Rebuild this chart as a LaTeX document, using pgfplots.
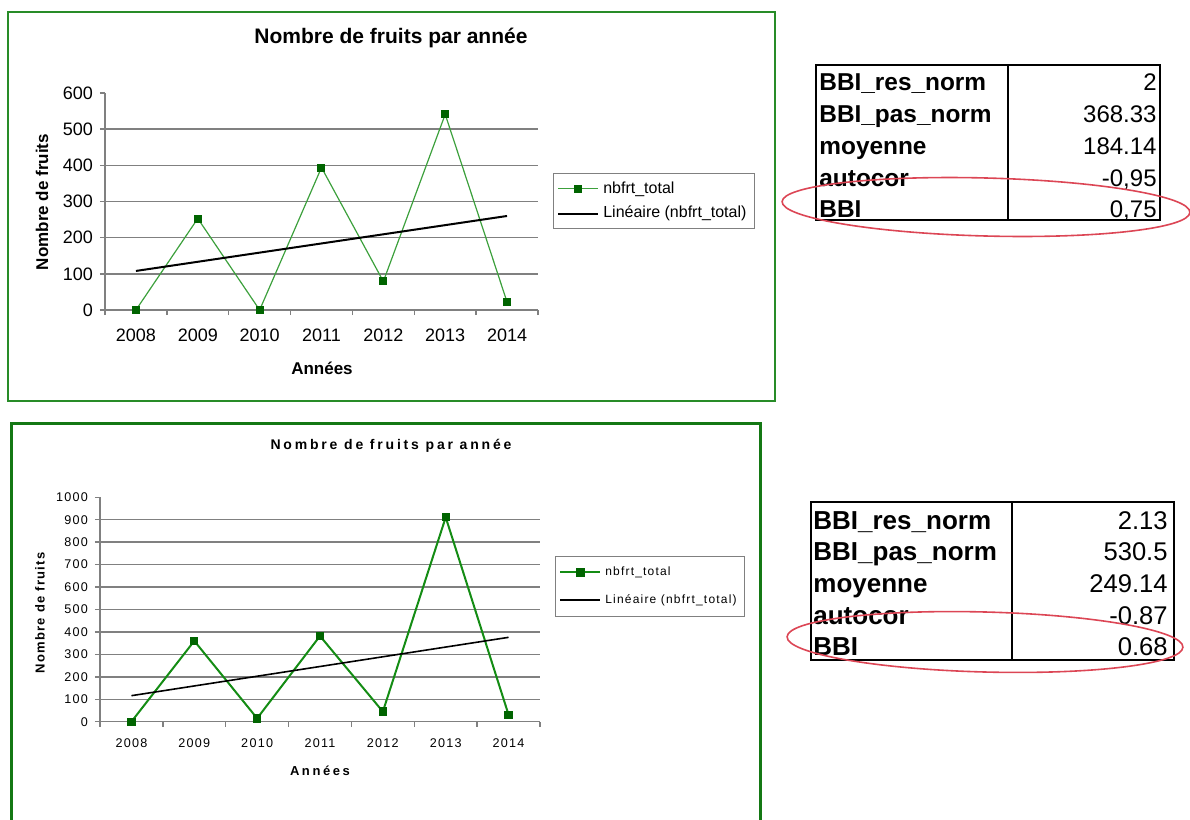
\documentclass[border=0pt]{standalone}
\usepackage{fontspec}
\setmainfont{Liberation Sans}
\newfontfamily\spaced[LetterSpace=10]{Liberation Sans}
\newfontfamily\spacedt[LetterSpace=20]{Liberation Sans}
\usepackage{pgfplots}
\pgfplotsset{compat=1.18}
\definecolor{frameg}{RGB}{40,140,40}
\definecolor{frameg2}{RGB}{20,120,20}
\definecolor{lineg}{RGB}{60,160,60}
\definecolor{lineg2}{RGB}{20,140,20}
\definecolor{markg}{RGB}{0,100,0}
\definecolor{gridg}{RGB}{128,128,128}
\definecolor{ellred}{RGB}{220,70,85}
\pgfplotsset{
  excelstyle/.style={
    scale only axis, anchor=south west,
    xmin=-0.5, xmax=6.5, ymin=0,
    axis x line*=bottom, axis y line*=left,
    axis line style={gridg, line width=0.7pt},
    xtick={0,1,2,3,4,5,6},
    xticklabels={2008,2009,2010,2011,2012,2013,2014},
    minor xtick={-0.5,0.5,1.5,2.5,3.5,4.5,5.5,6.5},
    major x tick style={draw=none},
    minor x tick style={gridg, line width=0.7pt},
    y tick style={gridg, line width=0.7pt},
    tick align=outside,
    major tick length=2.5pt, minor tick length=2.5pt,
    major grid style={gridg, line width=0.7pt},
    /pgf/number format/assume math mode=true,
    /pgf/number format/1000 sep={},
    clip=false,
    legend cell align=left,
    legend image code/.code={\draw[mark repeat=2,mark phase=2,##1] plot coordinates {(0cm,0cm) (0.35cm,0cm) (0.7cm,0cm)};},
  }
}
\begin{document}
\begin{tikzpicture}
\begin{scope}[x=0.5pt,y=-0.5pt]
  \path[use as bounding box] (0,0) rectangle (1190,820);
  % frames
  \draw[frameg, line width=1pt] (8,12) rectangle (775,401);
  \draw[frameg2, line width=1.5pt] (11,830) -- (11,423) -- (760,423) -- (760,830);
  % top chart texts
  \node[font=\bfseries\fontsize{10.5}{12}\selectfont] at (391,38) {Nombre de fruits par année};
  \node[font=\bfseries\fontsize{8.5}{10}\selectfont, rotate=90] at (42,202) {Nombre de fruits};
  \node[font=\bfseries\fontsize{8.5}{10}\selectfont] at (322,368) {Années};
  % bottom chart texts
  \node[font=\spacedt\bfseries\fontsize{7}{8}\selectfont] at (391,446) {Nombre de fruits par année};
  \node[font=\spaced\bfseries\fontsize{6.5}{8}\selectfont, rotate=90] at (40,613) {Nombre de fruits};
  \node[font=\spacedt\bfseries\fontsize{6.5}{8}\selectfont] at (320,771) {Années};
  % top table
  \draw[line width=1pt] (816,65) rectangle (1160,220);
  \draw[line width=1pt] (1008,65) -- (1008,220);
  \foreach \lab/\val/\yy in {BBI\_res\_norm/2/90, BBI\_pas\_norm/368.33/122, moyenne/184.14/154, autocor/-0{,}95/186, BBI/0{,}75/217}{
    \node[anchor=base west, inner sep=0pt, font=\bfseries\fontsize{12.2}{14}\selectfont] at (819,\yy) {\lab};
    \node[anchor=base east, inner sep=0pt, font=\fontsize{12}{14}\selectfont] at (1157,\yy) {\val};
  }
  % bottom table
  \draw[line width=1pt] (811,502) rectangle (1174,660);
  \draw[line width=1pt] (1012,502) -- (1012,660);
  \foreach \lab/\val/\yy in {BBI\_res\_norm/2.13/529, BBI\_pas\_norm/530.5/560.75, moyenne/249.14/592.5, autocor/-0.87/624.25, BBI/0.68/655}{
    \node[anchor=base west, inner sep=0pt, font=\bfseries\fontsize{13}{15}\selectfont] at (813,\yy) {\lab};
    \node[anchor=base east, inner sep=0pt, font=\fontsize{12.8}{14}\selectfont] at (1168,\yy) {\val};
  }
  % ellipses
  \draw[ellred, line width=0.8pt, rotate around={-1.5:(986,207)}] (986,207) ellipse [x radius=204, y radius=29];
  \draw[ellred, line width=0.8pt, rotate around={-1.5:(985,642)}] (985,642) ellipse [x radius=198, y radius=30];
\end{scope}

% top axis
\begin{axis}[excelstyle,
  at={(52.5pt,-155pt)},
  width=216.5pt, height=108.5pt,
  ymax=600,
  ytick={0,100,200,300,400,500,600},
  extra y ticks={100,200,300,400,500},
  extra y tick labels={},
  extra y tick style={grid=major, major tick length=0pt},
  tick label style={font=\fontsize{9}{10}\selectfont},
  xticklabel style={yshift=-3.5pt},
  legend style={at={(1.0346,0.631)}, anchor=north west, draw=gridg, line width=0.5pt,
    font=\fontsize{8}{9}\selectfont, inner xsep=2pt, inner ysep=2pt, row sep=1pt},
]
\addplot[lineg, line width=0.6pt, mark=square*, mark size=1.7pt, mark options={fill=markg, draw=markg, solid}]
  coordinates {(0,0) (1,253) (2,0) (3,394) (4,79) (5,541) (6,22)};
\addplot[black, line width=1pt] coordinates {(0,108) (6,260)};
\legend{nbfrt\_total, Linéaire (nbfrt\_total)}
\end{axis}

% bottom axis
\begin{axis}[excelstyle,
  at={(50pt,-360.85pt)},
  width=220pt, height=112.2pt,
  ymax=1000,
  ytick={0,100,200,300,400,500,600,700,800,900,1000},
  extra y ticks={100,200,300,400,500,600,700,800,900},
  extra y tick labels={},
  extra y tick style={grid=major, major tick length=0pt},
  tick label style={font=\spaced\fontsize{6.3}{7}\selectfont},
  xticklabel style={yshift=-2.5pt},
  legend style={at={(1.034,0.738)}, anchor=north west, draw=gridg, line width=0.5pt,
    font=\spaced\fontsize{6}{7}\selectfont, inner xsep=2pt, inner ysep=3pt, row sep=4pt},
]
\addplot[lineg2, line width=1pt, mark=square*, mark size=1.6pt, mark options={fill=markg, draw=markg, solid}]
  coordinates {(0,0) (1,360) (2,15) (3,382) (4,45) (5,911) (6,31)};
\addplot[black, line width=0.8pt] coordinates {(0,116) (6,376)};
\legend{nbfrt\_total, Linéaire (nbfrt\_total)}
\end{axis}
\end{tikzpicture}
\end{document}
